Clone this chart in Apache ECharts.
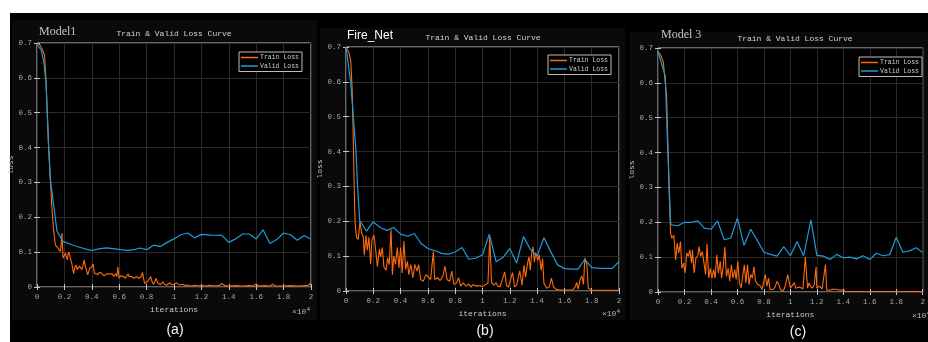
<!DOCTYPE html>
<html><head><meta charset="utf-8">
<script src="https://cdn.jsdelivr.net/npm/echarts@6/dist/echarts.min.js"></script>
<style>html,body{margin:0;padding:0;background:#fff}#c{width:928px;height:342px}</style>
</head><body><div id="c"></div><script>
// ---- data (x in units of 10^4 iterations) ----
const xTickLabels = ['0','0.2','0.4','0.6','0.8','1','1.2','1.4','1.6','1.8','2'];
const yTickLabels = ['0','0.1','0.2','0.3','0.4','0.5','0.6','0.7'];
const panelNames = ['Model1','Fire_Net','Model 3'];
const panelTags = ['(a)','(b)','(c)'];
const seriesNames = ['Train Loss','Valid Loss'];

const trainA = [[0,0.70],[0.02,0.695],[0.035,0.685],[0.045,0.675],[0.055,0.665],[0.065,0.6],[0.075,0.5],[0.085,0.4],[0.095,0.32],[0.1,0.29],[0.11,0.22],[0.121,0.164],[0.134,0.121],[0.146,0.115],[0.158,0.112],[0.17,0.102],[0.176,0.12],[0.182,0.155],[0.19,0.083],[0.2,0.09],[0.207,0.097],[0.22,0.078],[0.23,0.1],[0.238,0.093],[0.245,0.08],[0.255,0.066],[0.267,0.038],[0.275,0.055],[0.285,0.063],[0.293,0.05],[0.3,0.054],[0.31,0.06],[0.32,0.063],[0.328,0.05],[0.335,0.054],[0.345,0.078],[0.352,0.06],[0.36,0.05],[0.37,0.035],[0.378,0.045],[0.385,0.054],[0.392,0.05],[0.4,0.058],[0.41,0.066],[0.415,0.05],[0.42,0.04],[0.43,0.045],[0.445,0.035],[0.455,0.042],[0.47,0.04],[0.48,0.035],[0.49,0.032],[0.5,0.036],[0.51,0.038],[0.52,0.033],[0.53,0.037],[0.54,0.034],[0.55,0.038],[0.56,0.03],[0.575,0.038],[0.583,0.03],[0.59,0.057],[0.6,0.025],[0.61,0.032],[0.62,0.035],[0.63,0.03],[0.645,0.025],[0.655,0.03],[0.665,0.038],[0.672,0.03],[0.68,0.025],[0.69,0.03],[0.7,0.032],[0.708,0.025],[0.715,0.022],[0.725,0.03],[0.735,0.035],[0.742,0.025],[0.75,0.02],[0.76,0.03],[0.77,0.042],[0.778,0.025],[0.785,0.01],[0.795,0.012],[0.81,0.017],[0.82,0.012],[0.83,0.03],[0.84,0.015],[0.85,0.008],[0.86,0.015],[0.87,0.025],[0.88,0.012],[0.89,0.01],[0.9,0.007],[0.91,0.012],[0.92,0.015],[0.93,0.008],[0.945,0.005],[0.955,0.01],[0.97,0.012],[0.985,0.006],[1.0,0.008],[1.02,0.012],[1.04,0.006],[1.06,0.008],[1.08,0.004],[1.1,0.006],[1.12,0.003],[1.15,0.005],[1.18,0.003],[1.2,0.004],[1.23,0.003],[1.26,0.005],[1.3,0.003],[1.33,0.004],[1.35,0.01],[1.37,0.004],[1.4,0.003],[1.45,0.004],[1.5,0.003],[1.55,0.004],[1.58,0.003],[1.6,0.009],[1.62,0.003],[1.66,0.004],[1.7,0.003],[1.72,0.008],[1.74,0.003],[1.8,0.003],[1.85,0.004],[1.9,0.003],[1.95,0.004],[1.98,0.005],[2.0,0.012]];
const validA = [[0,0.695],[0.03,0.68],[0.05,0.645],[0.066,0.585],[0.075,0.5],[0.085,0.4],[0.1,0.3],[0.146,0.16],[0.19,0.131],[0.27,0.119],[0.33,0.112],[0.39,0.105],[0.41,0.106],[0.46,0.11],[0.51,0.112],[0.61,0.107],[0.66,0.105],[0.71,0.107],[0.75,0.112],[0.8,0.107],[0.85,0.12],[0.9,0.116],[0.95,0.128],[1.0,0.138],[1.05,0.15],[1.1,0.155],[1.15,0.141],[1.2,0.151],[1.27,0.149],[1.35,0.148],[1.4,0.128],[1.45,0.138],[1.5,0.152],[1.55,0.152],[1.6,0.138],[1.65,0.164],[1.7,0.125],[1.75,0.136],[1.8,0.155],[1.85,0.15],[1.9,0.134],[1.95,0.148],[2.0,0.137]];

const trainB = [[0,0.7],[0.02,0.685],[0.035,0.66],[0.045,0.58],[0.05,0.5],[0.055,0.4],[0.06,0.3],[0.066,0.2],[0.072,0.17],[0.078,0.154],[0.09,0.148],[0.102,0.199],[0.115,0.166],[0.127,0.154],[0.134,0.103],[0.146,0.16],[0.156,0.117],[0.168,0.154],[0.18,0.077],[0.19,0.147],[0.205,0.16],[0.22,0.108],[0.23,0.07],[0.245,0.12],[0.254,0.098],[0.266,0.125],[0.278,0.068],[0.293,0.06],[0.305,0.095],[0.317,0.076],[0.33,0.176],[0.34,0.047],[0.35,0.1],[0.363,0.076],[0.376,0.125],[0.388,0.066],[0.4,0.125],[0.412,0.052],[0.424,0.143],[0.437,0.062],[0.45,0.085],[0.46,0.047],[0.475,0.076],[0.49,0.038],[0.505,0.076],[0.52,0.057],[0.532,0.076],[0.547,0.033],[0.566,0.028],[0.586,0.047],[0.6,0.052],[0.62,0.033],[0.64,0.113],[0.65,0.033],[0.67,0.038],[0.69,0.03],[0.71,0.043],[0.725,0.071],[0.74,0.033],[0.76,0.028],[0.775,0.057],[0.79,0.019],[0.81,0.023],[0.825,0.038],[0.84,0.014],[0.86,0.023],[0.88,0.014],[0.9,0.02],[0.915,0.011],[0.93,0.018],[0.96,0.014],[0.98,0.016],[1.0,0.012],[1.016,0.017],[1.04,0.022],[1.053,0.154],[1.066,0.025],[1.083,0.017],[1.1,0.024],[1.11,0.014],[1.128,0.012],[1.14,0.008],[1.163,0.055],[1.175,0.017],[1.19,0.011],[1.22,0.053],[1.235,0.012],[1.25,0.017],[1.273,0.058],[1.29,0.017],[1.304,0.074],[1.316,0.04],[1.33,0.079],[1.34,0.098],[1.35,0.06],[1.36,0.107],[1.37,0.127],[1.38,0.083],[1.39,0.11],[1.405,0.088],[1.415,0.104],[1.43,0.06],[1.44,0.093],[1.45,0.022],[1.47,0.008],[1.49,0.012],[1.505,0.037],[1.52,0.012],[1.54,0.005],[1.57,0.003],[1.62,0.003],[1.66,0.003],[1.68,0.012],[1.69,0.025],[1.7,0.005],[1.715,0.033],[1.728,0.043],[1.74,0.019],[1.75,0.095],[1.765,0.074],[1.775,0.008],[1.8,0.003],[1.85,0.002],[1.9,0.002],[1.95,0.002],[2.0,0.002]];
const validB = [[0,0.7],[0.034,0.6],[0.054,0.5],[0.073,0.4],[0.085,0.3],[0.1,0.203],[0.15,0.172],[0.2,0.198],[0.25,0.182],[0.3,0.174],[0.35,0.182],[0.4,0.163],[0.45,0.157],[0.5,0.165],[0.55,0.136],[0.6,0.122],[0.65,0.116],[0.7,0.108],[0.75,0.106],[0.8,0.112],[0.85,0.125],[0.9,0.091],[0.95,0.094],[1.0,0.104],[1.05,0.163],[1.1,0.084],[1.15,0.096],[1.2,0.122],[1.25,0.08],[1.3,0.156],[1.35,0.12],[1.4,0.1],[1.45,0.153],[1.5,0.113],[1.55,0.075],[1.6,0.065],[1.65,0.063],[1.7,0.063],[1.75,0.091],[1.8,0.067],[1.86,0.065],[1.95,0.065],[2.0,0.084]];

const trainC = [[0,0.69],[0.02,0.68],[0.04,0.66],[0.055,0.655],[0.065,0.56],[0.075,0.42],[0.085,0.28],[0.095,0.169],[0.105,0.154],[0.12,0.163],[0.133,0.092],[0.145,0.14],[0.157,0.112],[0.17,0.145],[0.18,0.068],[0.193,0.083],[0.205,0.055],[0.217,0.112],[0.23,0.102],[0.24,0.121],[0.254,0.083],[0.26,0.121],[0.273,0.055],[0.286,0.097],[0.3,0.104],[0.31,0.13],[0.322,0.102],[0.335,0.116],[0.347,0.112],[0.36,0.05],[0.37,0.139],[0.383,0.04],[0.395,0.068],[0.408,0.04],[0.42,0.064],[0.432,0.04],[0.444,0.107],[0.456,0.055],[0.47,0.088],[0.48,0.04],[0.493,0.073],[0.505,0.13],[0.517,0.045],[0.53,0.068],[0.542,0.031],[0.554,0.078],[0.566,0.04],[0.58,0.064],[0.59,0.036],[0.603,0.088],[0.615,0.026],[0.628,0.012],[0.64,0.045],[0.652,0.078],[0.664,0.026],[0.676,0.078],[0.688,0.021],[0.7,0.05],[0.713,0.04],[0.725,0.073],[0.737,0.031],[0.755,0.021],[0.774,0.017],[0.786,0.007],[0.8,0.002],[0.81,0.05],[0.823,0.017],[0.835,0.04],[0.847,0.007],[0.866,0.007],[0.884,0.014],[0.9,0.031],[0.913,0.021],[0.925,0.007],[0.945,0.002],[0.96,0.015],[0.98,0.05],[1.0,0.011],[1.03,0.027],[1.04,0.011],[1.067,0.014],[1.08,0.018],[1.095,0.009],[1.113,0.1],[1.13,0.011],[1.14,0.026],[1.15,0.017],[1.165,0.011],[1.18,0.02],[1.194,0.072],[1.2,0.011],[1.22,0.017],[1.24,0.009],[1.25,0.011],[1.265,0.079],[1.275,0.005],[1.3,0.005],[1.32,0.008],[1.335,0.006],[1.35,0.008],[1.37,0.005],[1.4,0.006],[1.42,0.001],[1.5,0.001],[1.6,0.001],[1.7,0.001],[1.8,0.001],[1.9,0.001],[2.0,0.001]];
const validC = [[0,0.69],[0.03,0.65],[0.055,0.62],[0.07,0.45],[0.085,0.3],[0.095,0.2],[0.1,0.193],[0.15,0.19],[0.2,0.2],[0.25,0.2],[0.3,0.204],[0.35,0.183],[0.4,0.18],[0.45,0.204],[0.5,0.15],[0.55,0.155],[0.6,0.212],[0.65,0.134],[0.7,0.18],[0.75,0.148],[0.8,0.114],[0.85,0.108],[0.9,0.103],[0.95,0.13],[1.0,0.104],[1.05,0.145],[1.1,0.104],[1.155,0.207],[1.2,0.105],[1.25,0.103],[1.3,0.093],[1.35,0.108],[1.4,0.098],[1.45,0.1],[1.5,0.095],[1.55,0.104],[1.6,0.093],[1.65,0.111],[1.7,0.104],[1.75,0.107],[1.8,0.157],[1.85,0.114],[1.9,0.118],[1.95,0.127],[2.0,0.113]];

const trainSets = [trainA, trainB, trainC];
const validSets = [validA, validB, validC];

// ---- layout / style ----
const grids = [
  {left:37, top:43, width:274, height:244},
  {left:346, top:47, width:273, height:244},
  {left:658, top:48, width:273, height:244}
];
const legendPos = [{left:239, top:52},{left:548, top:55},{left:859, top:57}];
const titlePos = [[174,34],[483,37.5],[795,39]];
const namePos = [[39,32],[347,36],[661,35]];
const tagPos = [[175,330],[485,331],[798,332]];
const expPos = [[310,312],[620,314],[930,316]];
const panelRects = [[12,20,305,300],[320,28,305,292],[630,32,298,288]];
const mono = 'Liberation Mono';
const trainColor = '#ff6a0a';
const validColor = '#1e9cd8';
const tickColor = '#a8a8a8';
const frameColor = '#c4c4c4';
const gridLineColor = '#2a2a2a';

const xAxes = [], yAxes = [], series = [], legends = [], graphics = [];
graphics.push({type:'rect', z:-100, shape:{x:10,y:13,width:918,height:329}, style:{fill:'#000'}});
panelRects.forEach(r => graphics.push({type:'rect', z:-90, shape:{x:r[0],y:r[1],width:r[2],height:r[3]}, style:{fill:'#0a0a0a'}}));

grids.forEach((g, i) => {
  g.show = true; g.borderColor = frameColor; g.borderWidth = 1; g.backgroundColor = '#000';
  xAxes.push({
    gridIndex:i, type:'value', min:0, max:2, interval:0.2,
    name:'iterations', nameLocation:'middle', nameGap:18,
    nameTextStyle:{color:'#c8c8c8', fontFamily:mono, fontSize:8},
    axisLine:{show:false},
    axisTick:{inside:true, length:3, lineStyle:{color:frameColor}},
    axisLabel:{color:tickColor, fontFamily:mono, fontSize:7.5, margin:6,
      formatter: v => xTickLabels[Math.round(v/0.2)]},
    splitLine:{show:true, lineStyle:{color:gridLineColor, width:1}}
  });
  xAxes.push({
    gridIndex:i, type:'value', min:0, max:2, interval:0.2, position:'top',
    axisLine:{show:false}, axisLabel:{show:false}, splitLine:{show:false},
    axisTick:{inside:true, length:3, lineStyle:{color:frameColor}}
  });
  yAxes.push({
    gridIndex:i, type:'value', min:0, max:0.7, interval:0.1,
    name:'loss', nameLocation:'middle', nameGap:18, nameRotate:90,
    nameTextStyle:{color:'#c8c8c8', fontFamily:mono, fontSize:8},
    axisLine:{show:false},
    axisTick:{inside:true, length:3, lineStyle:{color:frameColor}},
    axisLabel:{color:tickColor, fontFamily:mono, fontSize:7.5, margin:5,
      formatter: v => yTickLabels[Math.round(v/0.1)]},
    splitLine:{show:true, lineStyle:{color:gridLineColor, width:1}}
  });
  yAxes.push({
    gridIndex:i, type:'value', min:0, max:0.7, interval:0.1, position:'right',
    axisLine:{show:false}, axisLabel:{show:false}, splitLine:{show:false},
    axisTick:{inside:true, length:3, lineStyle:{color:frameColor}}
  });
  series.push({
    name:seriesNames[0], type:'line', xAxisIndex:2*i, yAxisIndex:2*i,
    data:trainSets[i], showSymbol:false, symbol:'none', animation:false,
    lineStyle:{color:trainColor, width:1.1}, itemStyle:{color:trainColor}
  });
  series.push({
    name:seriesNames[1], type:'line', xAxisIndex:2*i, yAxisIndex:2*i,
    data:validSets[i], showSymbol:false, symbol:'none', animation:false,
    lineStyle:{color:validColor, width:1.2}, itemStyle:{color:validColor}
  });
  legends.push({
    data:seriesNames, orient:'vertical', left:legendPos[i].left, top:legendPos[i].top,
    padding:[2,3,2,2], itemGap:1.5, itemWidth:17, itemHeight:1.5, icon:'rect',
    borderColor:'#bdbdbd', borderWidth:1, backgroundColor:'#000',
    textStyle:{color:'#cfcfcf', fontFamily:mono, fontSize:6.5, padding:[0,0,0,-3]},
    selectedMode:false
  });
  graphics.push({type:'text', z:100, style:{x:titlePos[i][0], y:titlePos[i][1], text:'Train & Valid Loss Curve',
    fill:'#d4d4d4', font:'8px "Liberation Mono"', textAlign:'center', textVerticalAlign:'middle'}});
  const nameFont = i === 1 ? '12px "Liberation Sans"' : '12px "Liberation Serif"';
  const nameFill = i === 1 ? '#ffffff' : '#c4c4c4';
  graphics.push({type:'text', z:100, style:{x:namePos[i][0], y:namePos[i][1], text:panelNames[i],
    fill:nameFill, font:nameFont, textAlign:'left', textVerticalAlign:'middle'}});
  graphics.push({type:'text', z:100, style:{x:tagPos[i][0], y:tagPos[i][1], text:panelTags[i],
    fill:'#f2f2f2', font:'14px "Liberation Sans"', textAlign:'center', textVerticalAlign:'middle'}});
  graphics.push({type:'text', z:100, style:{x:expPos[i][0], y:expPos[i][1], text:'×10{s|4}',
    fill:'#b8b8b8', font:'8px "Liberation Mono"', textAlign:'right', textVerticalAlign:'middle',
    rich:{s:{fontSize:6, fontFamily:mono, fill:'#b8b8b8', verticalAlign:'top', padding:[0,0,5,0]}}}});
});

const chart = echarts.init(document.getElementById('c'), null, {renderer:'canvas'});
chart.setOption({
  backgroundColor:'#ffffff',
  animation:false,
  grid:grids, xAxis:xAxes, yAxis:yAxes, series:series, legend:legends,
  graphic:{elements:graphics}
});
</script></body></html>
